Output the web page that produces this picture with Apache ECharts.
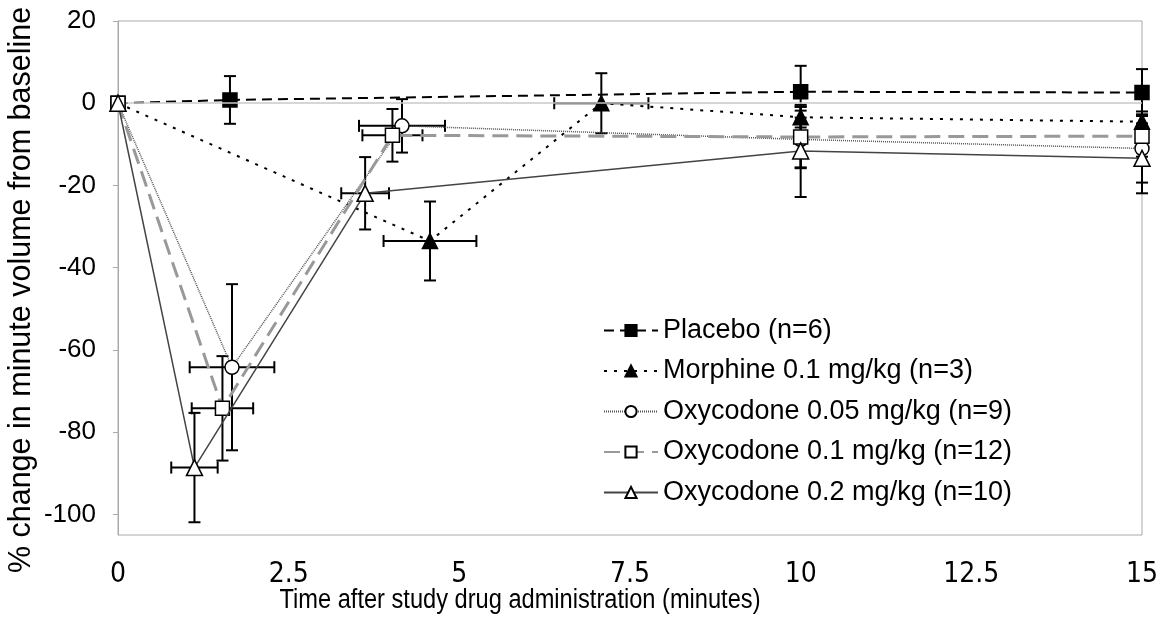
<!DOCTYPE html>
<html>
<head>
<meta charset="utf-8">
<script src="https://cdn.jsdelivr.net/npm/echarts@6/dist/echarts.min.js"></script>
<style>
  html, body { margin: 0; padding: 0; background: #fff; }
  #chart { width: 1162px; height: 618px; }
</style>
</head>
<body>
<div id="chart"></div>
<script>
// group names as in the legend
const groupNames = [
  'Placebo (n=6)',
  'Morphine 0.1 mg/kg (n=3)',
  'Oxycodone 0.05 mg/kg (n=9)',
  'Oxycodone 0.1 mg/kg (n=12)',
  'Oxycodone 0.2 mg/kg (n=10)'
]

// time (min), mean % change, SD of %, SD of time
const placeboX = [0, 1.64, 10, 15]
const placeboY = [0, 0.8, 2.8, 2.6]
const placeboYErr = [0, 5.8, 6.3, 5.7]
const placeboXErr = [0, 0, 0, 0]

const morphineX = [0, 4.57, 7.08, 10, 15]
const morphineY = [0, -33.5, 0, -3.4, -4.5]
const morphineYErr = [0, 9.6, 7.3, 2.5, 2.5]
const morphineXErr = [0, 0.68, 0.69, 0, 0]

const oxy005X = [0, 1.67, 4.16, 10, 15]
const oxy005Y = [0, -64.2, -5.5, -8.8, -11]
const oxy005YErr = [0, 20.2, 6.5, 7, 8.3]
const oxy005XErr = [0, 0.62, 0.63, 0, 0]

const oxy01X = [0, 1.53, 4.02, 10, 15]
const oxy01Y = [0, -74.2, -7.8, -8.2, -8]
const oxy01YErr = [0, 12.7, 6.4, 7.4, 5]
const oxy01XErr = [0, 0.45, 0.44, 0, 0]

const oxy02X = [0, 1.12, 3.62, 10, 15]
const oxy02Y = [0, -88.6, -21.9, -11.6, -13.4]
const oxy02YErr = [0, 13.3, 8.8, 11.2, 8.5]
const oxy02XErr = [0, 0.34, 0.35, 0, 0]

const yTicks = [-100, -80, -60, -40, -20, 0, 20]

const yTitle = '% change in minute volume from baseline'
const xTitle = 'Time after study drug administration (minutes)'

const groups = [
  { x: placeboX, y: placeboY, ye: placeboYErr, xe: placeboXErr,
    symbol: 'rect', size: 14, fill: '#000', line: { color: '#000', width: 2, type: [10, 6] } },
  { x: morphineX, y: morphineY, ye: morphineYErr, xe: morphineXErr,
    symbol: 'triangle', size: 15, fill: '#000', line: { color: '#000', width: 2, type: [3, 7] } },
  { x: oxy005X, y: oxy005Y, ye: oxy005YErr, xe: oxy005XErr,
    symbol: 'circle', size: 14, fill: '#fff', line: { color: '#555', width: 1.5, type: [1, 1] } },
  { x: oxy01X, y: oxy01Y, ye: oxy01YErr, xe: oxy01XErr,
    symbol: 'rect', size: 14, fill: '#fff', line: { color: '#999', width: 3, type: [16, 8] } },
  { x: oxy02X, y: oxy02Y, ye: oxy02YErr, xe: oxy02XErr,
    symbol: 'triangle', size: 16, fill: '#fff', line: { color: '#444', width: 1.5, type: 'solid' } }
]

function errorBars(params, api) {
  const x = api.value(0)
  const y = api.value(1)
  const xe = api.value(2)
  const ye = api.value(3)
  const cap = 6
  const children = []
  const style = { stroke: '#000', lineWidth: 2 }
  if (ye > 0) {
    const top = api.coord([x, y + ye])
    const bot = api.coord([x, y - ye])
    children.push({ type: 'line', shape: { x1: top[0], y1: top[1], x2: bot[0], y2: bot[1] }, style })
    children.push({ type: 'line', shape: { x1: top[0] - cap, y1: top[1], x2: top[0] + cap, y2: top[1] }, style })
    children.push({ type: 'line', shape: { x1: bot[0] - cap, y1: bot[1], x2: bot[0] + cap, y2: bot[1] }, style })
  }
  if (xe > 0) {
    const l = api.coord([x - xe, y])
    const r = api.coord([x + xe, y])
    children.push({ type: 'line', shape: { x1: l[0], y1: l[1], x2: r[0], y2: r[1] }, style })
    children.push({ type: 'line', shape: { x1: l[0], y1: l[1] - cap, x2: l[0], y2: l[1] + cap }, style })
    children.push({ type: 'line', shape: { x1: r[0], y1: r[1] - cap, x2: r[0], y2: r[1] + cap }, style })
  }
  return { type: 'group', children }
}

const series = []
// zero reference line
series.push({
  type: 'line',
  data: [],
  silent: true,
  z: 1,
  markLine: {
    silent: true,
    symbol: 'none',
    label: { show: false },
    lineStyle: { color: '#c8c8c8', width: 1.5, type: 'solid' },
    data: [{ yAxis: 0 }]
  }
})
groups.forEach((g) => {
  series.push({
    type: 'custom',
    z: 2,
    silent: true,
    renderItem: errorBars,
    data: g.x.map((v, k) => [v, g.y[k], g.xe[k], g.ye[k]])
  })
})
groups.forEach((g, i) => {
  series.push({
    name: groupNames[i],
    type: 'line',
    z: 3 + i,
    data: g.x.map((v, k) => [v, g.y[k]]),
    symbol: g.symbol,
    symbolSize: g.size,
    lineStyle: g.line,
    itemStyle: { color: g.fill, borderColor: '#000', borderWidth: 1.5 }
  })
})

const chart = echarts.init(document.getElementById('chart'))
chart.setOption({
  animation: false,
  backgroundColor: '#fff',
  textStyle: { fontFamily: "'Liberation Sans', Arial, sans-serif" },
  grid: {
    left: 118, right: 20, top: 21, bottom: 83,
    show: true, borderColor: '#aaa', borderWidth: 1
  },
  legend: {
    data: groupNames,
    orient: 'vertical',
    left: 598,
    top: 312,
    itemWidth: 54,
    itemHeight: 14,
    itemGap: 13.5,
    textStyle: { fontSize: 27, color: '#000', fontFamily: "'Liberation Sans', Arial, sans-serif" }
  },
  xAxis: {
    type: 'value',
    min: 0, max: 15, interval: 2.5,
    axisLine: { show: false },
    axisTick: { show: false },
    splitLine: { show: false },
    axisLabel: {
      margin: 26,
      fontSize: 28,
      color: '#000',
      fontFamily: "'Liberation Sans Narrow', 'DejaVu Sans Condensed', 'Liberation Sans', Arial, sans-serif"
    }
  },
  yAxis: {
    type: 'value',
    min: -105, max: 20,
    axisLine: { show: true, lineStyle: { color: '#aaa' } },
    axisTick: { show: true, length: 5, customValues: yTicks, lineStyle: { color: '#aaa' } },
    splitLine: { show: false },
    axisLabel: { customValues: yTicks, margin: 22, fontSize: 26, color: '#000' }
  },
  graphic: [
    {
      type: 'text',
      x: 22, y: 290,
      rotation: Math.PI / 2,
      style: {
        text: yTitle,
        fontSize: 30.5,
        fill: '#000',
        fontFamily: "'Liberation Sans', Arial, sans-serif",
        align: 'center',
        verticalAlign: 'middle'
      }
    },
    {
      type: 'text',
      x: 520, y: 601,
      scaleX: 0.875,
      style: {
        text: xTitle,
        fontSize: 27,
        fill: '#000',
        fontFamily: "'Liberation Sans', Arial, sans-serif",
        align: 'center',
        verticalAlign: 'middle'
      }
    }
  ],
  series
})
</script>
</body>
</html>
